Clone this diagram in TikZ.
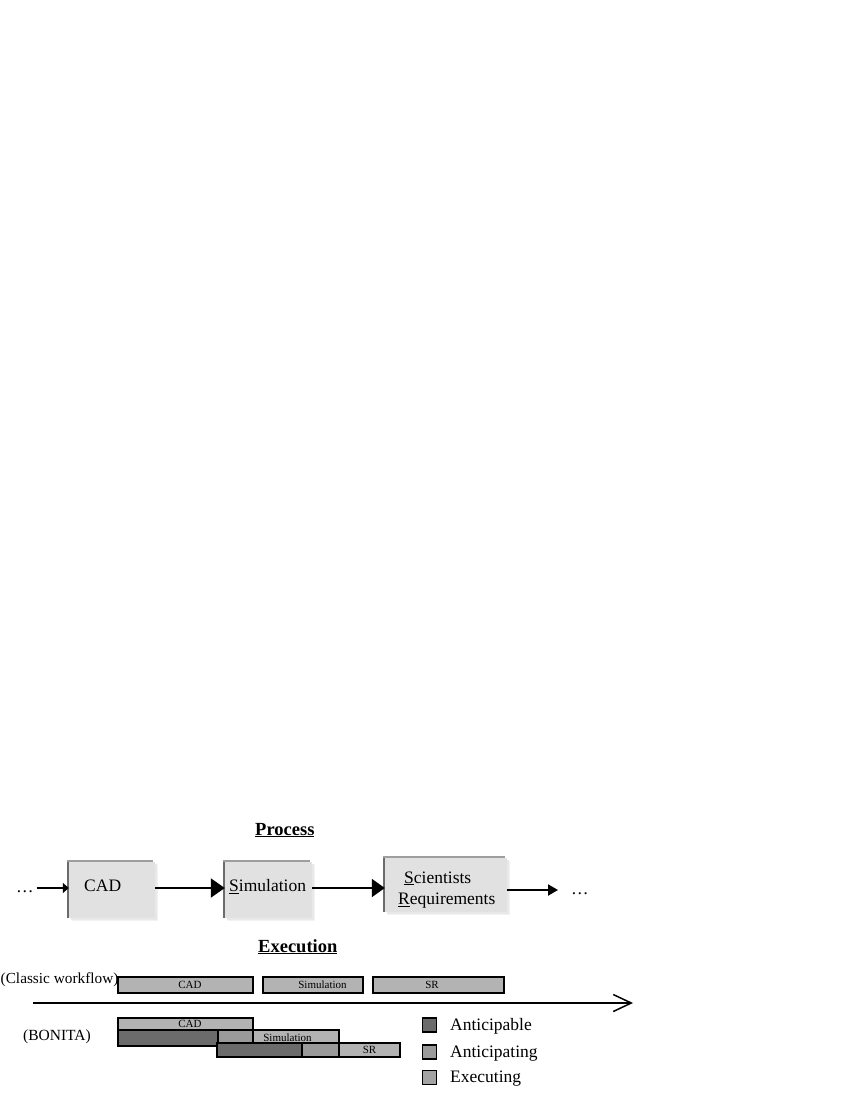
\documentclass[tikz,border=0pt]{standalone}
\usepackage{fontspec}
\setmainfont{Liberation Serif}
\usetikzlibrary{arrows.meta,shadows}
\definecolor{procfill}{HTML}{E1E1E1}
\definecolor{barlight}{HTML}{B3B3B3}
\definecolor{barmed}{HTML}{9A9A9A}
\definecolor{bardark}{HTML}{6B6B6B}
\definecolor{legexec}{HTML}{A3A3A3}
\begin{document}
\begin{tikzpicture}[x=1pt,y=-1pt,
  procbox/.style={rectangle, fill=procfill, inner sep=0pt,
    general shadow={shadow xshift=3pt, shadow yshift=-3pt, fill=black!5},
    general shadow={shadow xshift=1.5pt, shadow yshift=-1.5pt, fill=black!9},
    general shadow={shadow xshift=-2pt, shadow yshift=2pt, fill=black!38},
    general shadow={shadow xshift=-2pt, fill=black!58}},
  proctext/.style={anchor=base west, inner sep=0pt, font=\fontsize{17.5}{21}\selectfont},
  heading/.style={anchor=base west, inner sep=0pt, font=\bfseries\fontsize{18.5}{22}\selectfont},
  flow/.style={line width=2pt},
  bar/.style={rectangle, draw=black, line width=1.5pt, inner sep=0pt},
  bartext/.style={inner sep=0pt, font=\fontsize{11}{13}\selectfont},
  sidetext/.style={anchor=base west, inner sep=0pt},
  legbox/.style={rectangle, draw=black, line width=1.5pt, inner sep=0pt, minimum width=14pt, minimum height=14pt},
  legtext/.style={anchor=base west, inner sep=0pt, font=\fontsize{17.5}{21}\selectfont}
]
\useasboundingbox (0,0) rectangle (850,1100);

% ---------- Process ----------
\node[heading] (proc) at (255,835) {\underline{Process}};

\node[procbox, minimum width=86pt, minimum height=56pt] (cad) at (112,890) {};
\node[procbox, minimum width=87pt, minimum height=56pt] (sim) at (268.5,890) {};
\node[procbox, minimum width=122pt, minimum height=54pt] (sr) at (446,885) {};

\node[proctext] (cadt) at (84,891.7) {CAD};
\node[proctext] (simt) at (229,891.7) {\underline{S}imulation};
\node[proctext] (srt1) at (404,883) {\underline{S}cientists};
\node[proctext] (srt2) at (398,904.5) {\underline{R}equirements};

\node[proctext] (dl) at (16,892) {…};
\node[proctext] (dr) at (571,894) {…};

\draw[flow, -{Triangle[length=6pt,width=10pt]}, shorten <=3pt]
  (dl.east |- 0,888) -- (dl.east |- 0,888 -| cad.west);
\draw[flow, -{Triangle[length=14pt,width=19pt]}]
  ([yshift=2pt]cad.east) -- ([yshift=2pt]cad.east -| sim.west);
\draw[flow, -{Triangle[length=13pt,width=18pt]}]
  ([yshift=2pt]sim.east) -- ([yshift=2pt]sim.east -| sr.west);
\draw[flow, -{Triangle[length=10pt,width=11pt]}, shorten >=13pt]
  ([yshift=-5pt]sr.east) -- ([yshift=-5pt]sr.east -| dr.west);

% ---------- Execution ----------
\node[heading] (exec) at (258,952) {\underline{Execution}};

\node[sidetext, font=\fontsize{15.3}{18}\selectfont] (classic) at (0.5,983) {(Classic workflow)};
\node[bar, fill=barlight, minimum width=135pt, minimum height=16pt,
  label={[bartext,xshift=4.5pt]center:CAD}] (ccad) at (185.5,985) {};
\node[bar, fill=barlight, minimum width=100pt, minimum height=16pt,
  label={[bartext,xshift=9.5pt]center:Simulation}] (csim) at (313,985) {};
\node[bar, fill=barlight, minimum width=131pt, minimum height=16pt,
  label={[bartext,xshift=-6.5pt]center:SR}] (csr) at (438.5,985) {};

\coordinate (t0) at (33,1003);
\coordinate (t1) at (633,1003);
\draw[line width=1.8pt, -{Straight Barb[length=18pt,width=17pt,line width=1.5pt]}] (t0) -- (t1);

\node[sidetext, font=\fontsize{15.5}{18}\selectfont] (bonita) at (23,1040) {(BONITA)};

\node[bar, fill=bardark, minimum width=100pt, minimum height=16pt] (b2d) at (168,1038) {};
\node[bar, fill=barmed, minimum width=35pt, minimum height=16pt] (b2m) at (235.5,1038) {};
\node[bar, fill=barlight, minimum width=135pt, minimum height=12pt,
  label={[bartext,xshift=4.5pt]center:CAD}] (bcad) at (185.5,1024) {};
\node[bar, fill=barlight, minimum width=86pt, minimum height=13pt,
  label={[bartext,xshift=-8.5pt,yshift=-1.5pt]center:Simulation}] (bsim) at (296,1036.5) {};
\node[bar, fill=bardark, minimum width=85pt, minimum height=14pt] (b3d) at (259.5,1050) {};
\node[bar, fill=barmed, minimum width=37pt, minimum height=14pt] (b3m) at (320.5,1050) {};
\node[bar, fill=barlight, minimum width=61pt, minimum height=14pt,
  label={[bartext]center:SR}] (bsr) at (369.5,1050) {};

% ---------- Legend ----------
\node[legbox, fill=bardark] (l1) at (429.5,1025) {};
\node[legbox, fill=barmed] (l2) at (429.5,1052) {};
\node[legbox, fill=legexec] (l3) at (429.5,1077.5) {};
\node[legtext] (l1t) at (450,1030) {Anticipable};
\node[legtext] (l2t) at (450,1057) {Anticipating};
\node[legtext] (l3t) at (450,1082.5) {Executing};
\end{tikzpicture}
\end{document}
